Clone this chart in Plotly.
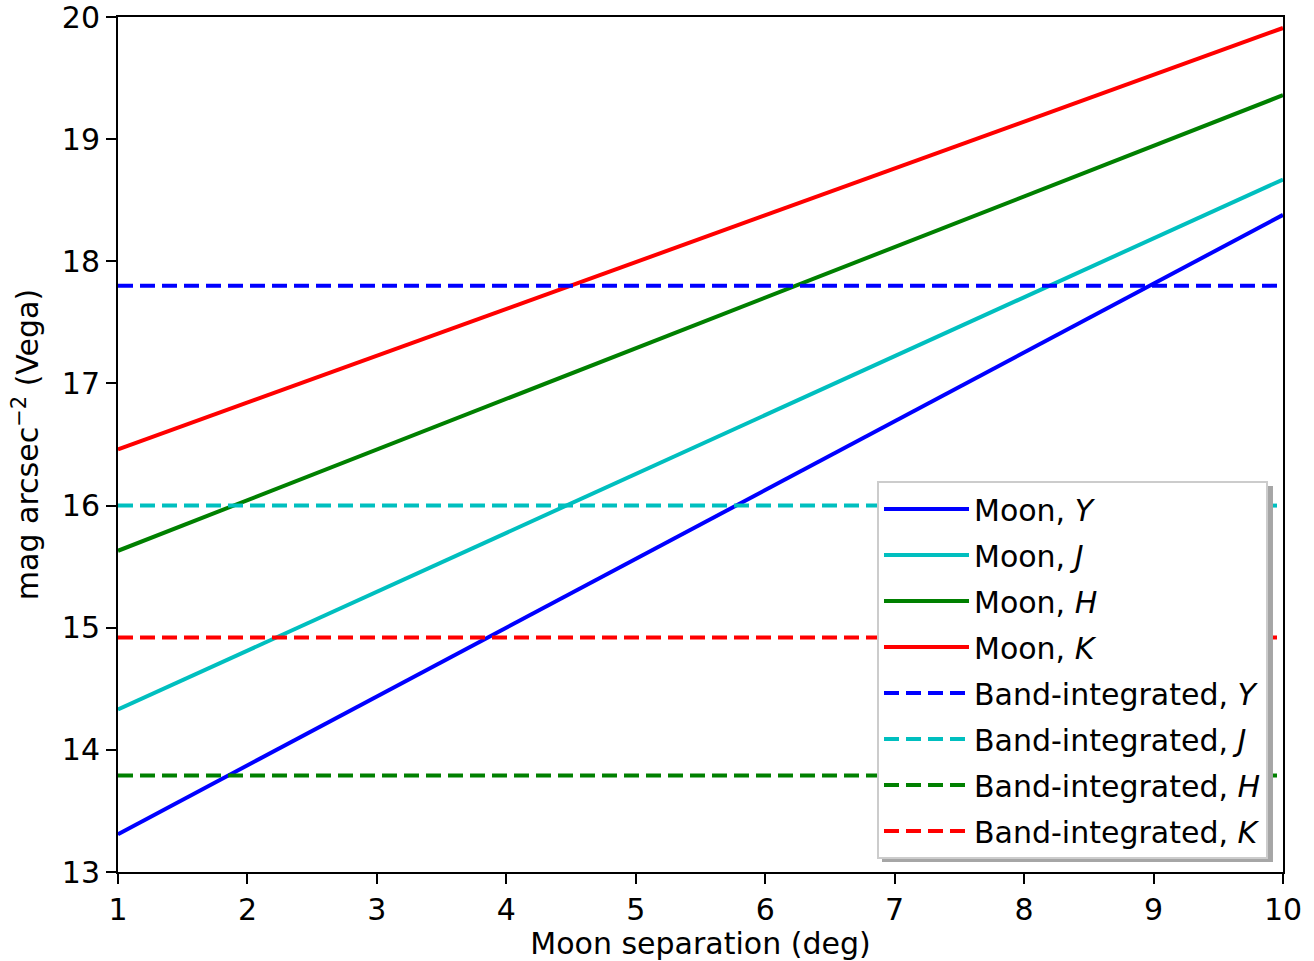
import plotly.graph_objects as go

x_sep = [1, 10]
moon_Y = [13.31, 18.38]
moon_J = [14.33, 18.67]
moon_H = [15.63, 19.36]
moon_K = [16.46, 19.91]
band_Y = 17.80
band_J = 16.00
band_H = 13.79
band_K = 14.92

x_ticks = [1, 2, 3, 4, 5, 6, 7, 8, 9, 10]
y_ticks = [13, 14, 15, 16, 17, 18, 19, 20]

BLUE = "#0000ff"
CYAN = "#00bfbf"
GREEN = "#008000"
RED = "#ff0000"
FS = 30

fig = go.Figure()
series = [
    ("Moon, <i>Y</i>", moon_Y, BLUE, "solid"),
    ("Moon, <i>J</i>", moon_J, CYAN, "solid"),
    ("Moon, <i>H</i>", moon_H, GREEN, "solid"),
    ("Moon, <i>K</i>", moon_K, RED, "solid"),
    ("Band-integrated, <i>Y</i>", [band_Y, band_Y], BLUE, "15px,7px"),
    ("Band-integrated, <i>J</i>", [band_J, band_J], CYAN, "15px,7px"),
    ("Band-integrated, <i>H</i>", [band_H, band_H], GREEN, "15px,7px"),
    ("Band-integrated, <i>K</i>", [band_K, band_K], RED, "15px,7px"),
]
for i, (name, ys, col, dash) in enumerate(series):
    fig.add_trace(go.Scatter(
        x=x_sep, y=ys, mode="lines", name=name, legendgroup=f"g{i}",
        line=dict(color=col, width=4, dash=dash),
    ))

axis_common = dict(
    showgrid=False, zeroline=False, showline=True, linecolor="black",
    linewidth=2, mirror=True, ticks="outside", ticklen=10, tickwidth=2,
    tickcolor="black", tickfont=dict(size=FS, color="black"), automargin=False,
    ticklabeloverflow="allow",
)
fig.update_xaxes(range=[1, 10], tickvals=x_ticks, **axis_common,
                 title=dict(text="Moon separation (deg)", font=dict(size=FS, color="black"), standoff=14))
fig.update_yaxes(range=[13, 20.0001], tickvals=y_ticks, **axis_common,
                 title=dict(text="mag arcsec<sup>−2</sup> (Vega)", font=dict(size=FS, color="black"), standoff=14))

# legend shadow (offset gray box behind the legend)
fig.add_shape(type="rect", xref="paper", yref="paper", layer="above",
              x0=0.6558, x1=0.9914, y0=0.0117, y1=0.4515,
              fillcolor="#a6a6a6", line=dict(width=0))

fig.update_layout(
    width=1314, height=961,
    margin=dict(l=118, r=31, t=17, b=89),
    paper_bgcolor="white", plot_bgcolor="white",
    font=dict(family="DejaVu Sans", size=FS, color="black"),
    showlegend=True,
    legend=dict(
        x=0.6515, y=0.4573, xanchor="left", yanchor="top",
        bgcolor="white", bordercolor="#cccccc", borderwidth=2,
        traceorder="grouped", tracegroupgap=4, itemwidth=85,
        font=dict(size=FS, color="black"),
    ),
)
fig.write_html("out.html")
